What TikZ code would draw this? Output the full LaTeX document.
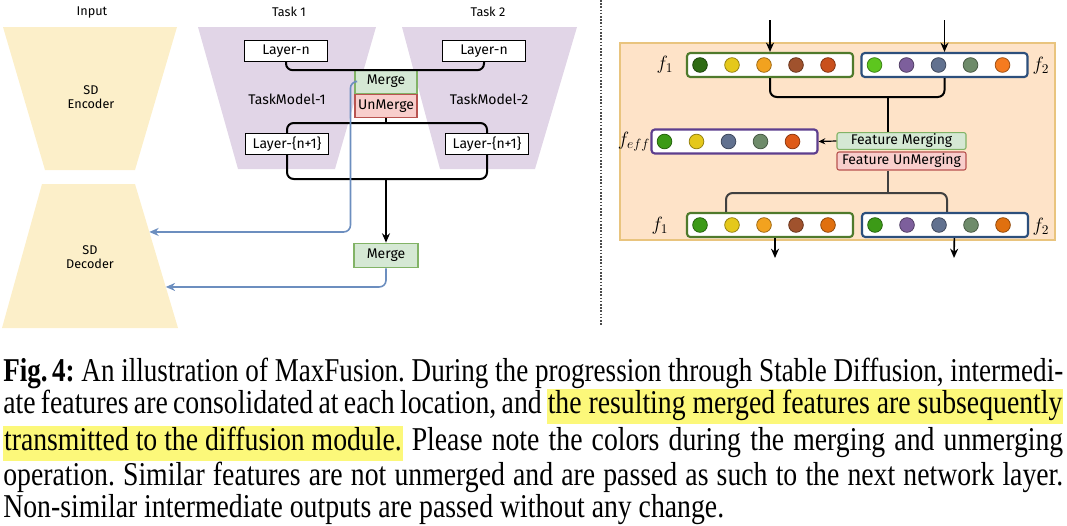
\documentclass[tikz,border=0pt]{standalone}
\usepackage{fontspec}
\setmainfont{Liberation Serif}
\newfontfamily\sketchfont{Fira Sans}
\usetikzlibrary{positioning,arrows.meta,calc}

\definecolor{encfill}{HTML}{FCEFC9}
\definecolor{taskfill}{HTML}{E1D5E7}
\definecolor{mergefill}{HTML}{D5E8D4}
\definecolor{mergeline}{HTML}{82B366}
\definecolor{unmergefill}{HTML}{F8CECC}
\definecolor{unmergeline}{HTML}{B85450}
\definecolor{sendblue}{HTML}{6C8EBF}
\definecolor{panelfill}{HTML}{FEE3C8}
\definecolor{panelline}{HTML}{E9C47E}
\definecolor{fonegreen}{HTML}{4F7A2C}
\definecolor{ftwoblue}{HTML}{2C4F7C}
\definecolor{feffpurple}{HTML}{5D3E8E}
\definecolor{hlyellow}{HTML}{FCF87A}
% feature colours
\definecolor{dkgreen}{HTML}{2E6B14}
\definecolor{ochre}{HTML}{E5C81B}
\definecolor{amber}{HTML}{F2A21F}
\definecolor{brown}{HTML}{A0522D}
\definecolor{rust}{HTML}{C9501C}
\definecolor{lime}{HTML}{5DC61E}
\definecolor{plum}{HTML}{7D5F9C}
\definecolor{slate}{HTML}{61718F}
\definecolor{sage}{HTML}{6E8B6A}
\definecolor{tangerine}{HTML}{F57B1F}
\definecolor{leaf}{HTML}{3C9A17}
\definecolor{ember}{HTML}{DE5A18}
\definecolor{pumpkin}{HTML}{E0700F}

\newcommand{\hlmark}[1]{{\setlength{\fboxsep}{0.6pt}\colorbox{hlyellow}{\strut #1}}}

\begin{document}
\begin{tikzpicture}[x=0.75pt, y=-0.75pt,
    every node/.style={font=\sketchfont\fontsize{10.5}{12}\selectfont, inner sep=0pt, align=center},
    head/.style={font=\sketchfont\fontsize{9.5}{11}\selectfont},
    layerbox/.style={rectangle, draw=black, fill=white, line width=0.8pt,
                     minimum width=62pt, minimum height=16pt},
    mergebox/.style={rectangle, draw=mergeline, fill=mergefill, line width=0.8pt,
                     minimum width=46.5pt, minimum height=17.5pt},
    unmergebox/.style={mergebox, draw=unmergeline, fill=unmergefill},
    featbox/.style={rectangle, rounded corners=2.5pt, fill=white, line width=1.6pt,
                    minimum width=124.5pt, minimum height=18pt},
    dot/.style={circle, minimum size=11pt, line width=0.6pt},
    flabel/.style={font=\fontsize{14}{14}\selectfont},
    wire/.style={line width=1.5pt, rounded corners=5pt},
    arr/.style={-{Stealth[length=7pt, width=6pt]}, line width=1.2pt},
    send/.style={-{Stealth[length=7pt, width=6pt]}, sendblue, line width=1.2pt, rounded corners=5pt},
  ]
  \useasboundingbox (0,0) rectangle (1067,525);

  % left half: the two task models between the SD encoder and decoder
  \fill[encfill] (3,27) -- (177,27) -- (135,170) -- (45,170) -- cycle;
  \fill[encfill] (42,184) -- (135,184) coordinate (dectr) -- (178,328) coordinate (decbr) -- (2,328) -- cycle;
  \fill[taskfill] (198,27) -- (376,27) -- (335,169) -- (238,169) -- cycle;
  \fill[taskfill] (402,27) -- (577,27) -- (535,169) -- (440,169) -- cycle;

  \node[head] (inp) at (92,12) {Input};
  \node[head] (task1) at (289,12) {Task 1};
  \node[head] (task2) at (488,12) {Task 2};
  \node[head] (enc) at (91,97) {SD\\Encoder};
  \node[head] (dec) at (90,257) {SD\\Decoder};
  \node (tm1) at (287,99) {TaskModel-1};
  \node (tm2) at (489,99) {TaskModel-2};

  \node[layerbox] (ln1) at (286,51) {Layer-n};
  \node[layerbox] (ln2) at (484,51) {Layer-n};
  \node[mergebox] (mgtop) at (386,81.5) {Merge};
  \node[unmergebox, below=0pt of mgtop] (unm) {UnMerge};
  \node[layerbox] (lm1) at (287,144) {Layer-\{n+1\}};
  \node[layerbox] (lm2) at (487,144) {Layer-\{n+1\}};
  \node[mergebox, minimum width=48pt, minimum height=18.5pt] (mgbot) at (386,255.5) {Merge};

  \coordinate (sp2) at (386,123);
  \coordinate (sp3) at (386,179);
  \coordinate (decin) at ($(dectr)!0.333!(decbr)$);
  \coordinate (decout) at ($(dectr)!0.715!(decbr)$);

  \draw[wire] (ln1.south) -- ++(0,8) -| (ln2.south);
  \draw[wire] (lm1.north) |- (sp2) -| (lm2.north);
  \draw[line width=1.5pt] (unm.south) -- (sp2);
  \draw[wire] (lm1.south) |- (sp3) -| (lm2.south);
  \draw[arr] (sp3) -- (mgbot.north);
  % merged features go straight to the decoder
  \draw[send] (mgtop.west) -- ++(-4,0) |- (decin);
  \draw[send] (mgbot.south) |- (decout);

  \draw[black!70, line width=0.8pt, dash pattern=on 1.2pt off 1.2pt] (601,0) -- (601,325);

  % right half: merging and unmerging of the feature vectors
  \draw[panelline, fill=panelfill, line width=1pt] (620,43) rectangle (1055,240);

  \node[featbox, draw=fonegreen] (f1t) at (770,65) {};
  \node[featbox, draw=ftwoblue] (f2t) at (944.5,65) {};
  \node[featbox, draw=feffpurple] (feff) at (734.5,141.5) {};
  \node[featbox, draw=fonegreen] (f1b) at (770,225) {};
  \node[featbox, draw=ftwoblue] (f2b) at (945,225) {};
  \foreach \row/\cols in {f1t/{dkgreen,ochre,amber,brown,rust},
                          f2t/{lime,plum,slate,sage,tangerine},
                          feff/{leaf,ochre,slate,sage,ember},
                          f1b/{leaf,ochre,amber,brown,pumpkin},
                          f2b/{leaf,plum,slate,sage,pumpkin}}
    \foreach \c [count=\i from 0] in \cols
      \node[dot, fill=\c, draw=\c!65!black] (\row-\i) at ($(\row.center)+({-70+32*\i},0)$) {};

  \node[flabel] (lf1t) at (665,65) {$f_1$};
  \node[flabel] (lf2t) at (1041,66) {$f_2$};
  \node[flabel] (lfeff) at (634,142) {$f_{eff}$};
  \node[flabel] (lf1b) at (660,226) {$f_1$};
  \node[flabel] (lf2b) at (1041,227) {$f_2$};

  \node[mergebox, rounded corners=1.5pt, minimum width=96.75pt, minimum height=12.5pt,
        font=\sketchfont\fontsize{10.5}{12}\selectfont] (fm) at (901.5,141) {Feature Merging};
  \node[unmergebox, rounded corners=1.5pt, minimum width=96.75pt, minimum height=13.5pt,
        font=\sketchfont\fontsize{10.5}{12}\selectfont, below=1.2pt of fm] (fum) {Feature UnMerging};

  \coordinate (in1) at (770,20);
  \coordinate (in2) at (944.5,20);
  \coordinate (jm) at (888,97);
  \coordinate (ju) at (888,193);
  \coordinate (out1) at (775,258);
  \coordinate (out2) at (954,258);

  \draw[arr] (in1) -- (f1t.north);
  \draw[arr] (in2) -- (f2t.north);
  \draw[wire] (f1t.south) |- (jm) -| (f2t.south);
  \draw[line width=1.5pt] (jm) -- (jm |- fm.north);
  \draw[-{Stealth[length=5pt, width=4.5pt]}, line width=0.9pt] (fm.west) -- (feff.east);
  \draw[wire, black!75] ([xshift=-33pt]f1b.north) |- (ju) -| ([xshift=1.5pt]f2b.north);
  \draw[line width=1.5pt, black!75] (fum.south -| ju) -- (ju);
  \draw[arr] ([xshift=3.75pt]f1b.south) -- (out1);
  \draw[arr] ([xshift=7pt]f2b.south) -- (out2);

  % caption under the figure
  \node[anchor=north west, font=\rmfamily, align=left] (cap) at (3,358) {\scalebox{1}[1.2]{\parbox{795pt}{\fontsize{20.8}{20}\selectfont\frenchspacing
    \resizebox{795pt}{\height}{\textbf{Fig.\,4:} An illustration of MaxFusion. During the progression through Stable Diffusion, intermedi-}\linebreak
    ate features are consolidated at each location, and \hlmark{the resulting merged features are subsequently}\linebreak
    \hlmark{transmitted to the diffusion module.} Please note the colors during the merging and unmerging\linebreak
    operation. Similar features are not unmerged and are passed as such to the next network layer.\linebreak
    Non-similar intermediate outputs are passed without any change.}}};
\end{tikzpicture}
\end{document}
